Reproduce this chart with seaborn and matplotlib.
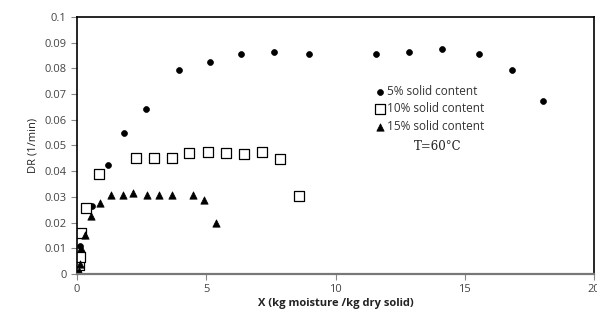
import numpy as np
import pandas as pd
import matplotlib
matplotlib.use("Agg")
import matplotlib.pyplot as plt
import seaborn as sns

# 5% solid content (circles)
x_5 = [0.05, 0.09, 0.12, 0.57, 1.19, 1.82, 2.67, 3.94, 5.15, 6.33, 7.61, 8.97,
       11.55, 12.84, 14.13, 15.56, 16.82, 18.03]
dr_5 = [0.0013, 0.0042, 0.011, 0.0263, 0.0423, 0.055, 0.064, 0.0794, 0.0823, 0.0855,
        0.0865, 0.0855, 0.0855, 0.0862, 0.0875, 0.0855, 0.0794, 0.0672]

# 10% solid content (squares)
x_10 = [0.08, 0.12, 0.14, 0.35, 0.86, 2.3, 2.98, 3.66, 4.34, 5.05, 5.76, 6.47,
        7.14, 7.87, 8.58]
dr_10 = [0.0035, 0.0064, 0.0159, 0.0257, 0.039, 0.0452, 0.0452, 0.0452, 0.0469,
         0.0475, 0.0469, 0.0465, 0.0474, 0.0449, 0.0302]

# 15% solid content (triangles)
x_15 = [0.08, 0.1, 0.16, 0.31, 0.53, 0.89, 1.3, 1.76, 2.16, 2.7, 3.17, 3.66,
        4.47, 4.93, 5.36]
dr_15 = [0.001, 0.004, 0.010, 0.0152, 0.0227, 0.0276, 0.0309, 0.0309, 0.0315,
         0.0309, 0.0309, 0.0309, 0.0309, 0.0286, 0.020]

x_ticks = [0, 5, 10, 15, 20]
y_ticks = [0, 0.01, 0.02, 0.03, 0.04, 0.05, 0.06, 0.07, 0.08, 0.09, 0.1]
y_tick_labels = ["0", "0.01", "0.02", "0.03", "0.04", "0.05", "0.06", "0.07",
                 "0.08", "0.09", "0.1"]

sns.set_style("ticks")
plt.rcParams['font.family'] = ['Open Sans', 'DejaVu Sans']

fig = plt.figure(figsize=(5.97, 3.20), dpi=100)
ax = fig.add_axes([0.129, 0.144, 0.866, 0.803])

df5 = pd.DataFrame({'x': x_5, 'dr': dr_5})
df10 = pd.DataFrame({'x': x_10, 'dr': dr_10})
df15 = pd.DataFrame({'x': x_15, 'dr': dr_15})

sns.scatterplot(data=df5, x='x', y='dr', ax=ax, marker='o', s=18,
                color='black', edgecolor='black', linewidth=0.5,
                label='5% solid content')
sns.scatterplot(data=df10, x='x', y='dr', ax=ax, marker='s', s=52,
                facecolor='white', edgecolor='black', linewidth=0.9,
                label='10% solid content')
sns.scatterplot(data=df15, x='x', y='dr', ax=ax, marker='^', s=28,
                color='black', edgecolor='black', linewidth=0.5,
                label='15% solid content')

ax.set_xlim(0, 20)
ax.set_ylim(0, 0.1)
ax.set_xticks(x_ticks)
ax.set_yticks(y_ticks)
ax.set_yticklabels(y_tick_labels)
ax.tick_params(axis='both', labelsize=8, labelcolor='#444444', color='#888888',
               length=4, width=0.8, direction='out')

for side in ['top', 'right', 'left']:
    ax.spines[side].set_color('black')
    ax.spines[side].set_linewidth(1.2)
ax.spines['bottom'].set_color('#777777')
ax.spines['bottom'].set_linewidth(1.6)

ax.set_xlabel('X (kg moisture /kg dry solid)', fontsize=8, fontweight='bold',
              color='#222222', labelpad=2)
ax.set_ylabel('DR (1/min)', fontsize=8, color='#222222', labelpad=4)

leg = ax.legend(loc='upper left', bbox_to_anchor=(0.565, 0.755), frameon=False,
                fontsize=8.5, handletextpad=0.1, labelspacing=0.4,
                borderaxespad=0, handlelength=1.0)
for t in leg.get_texts():
    t.set_color('#333333')

ax.text(13.95, 0.0497, 'T=60°C', family='DejaVu Serif', fontsize=8.5,
        ha='center', va='center', color='#222222')

fig.savefig('out.png', dpi=100)
